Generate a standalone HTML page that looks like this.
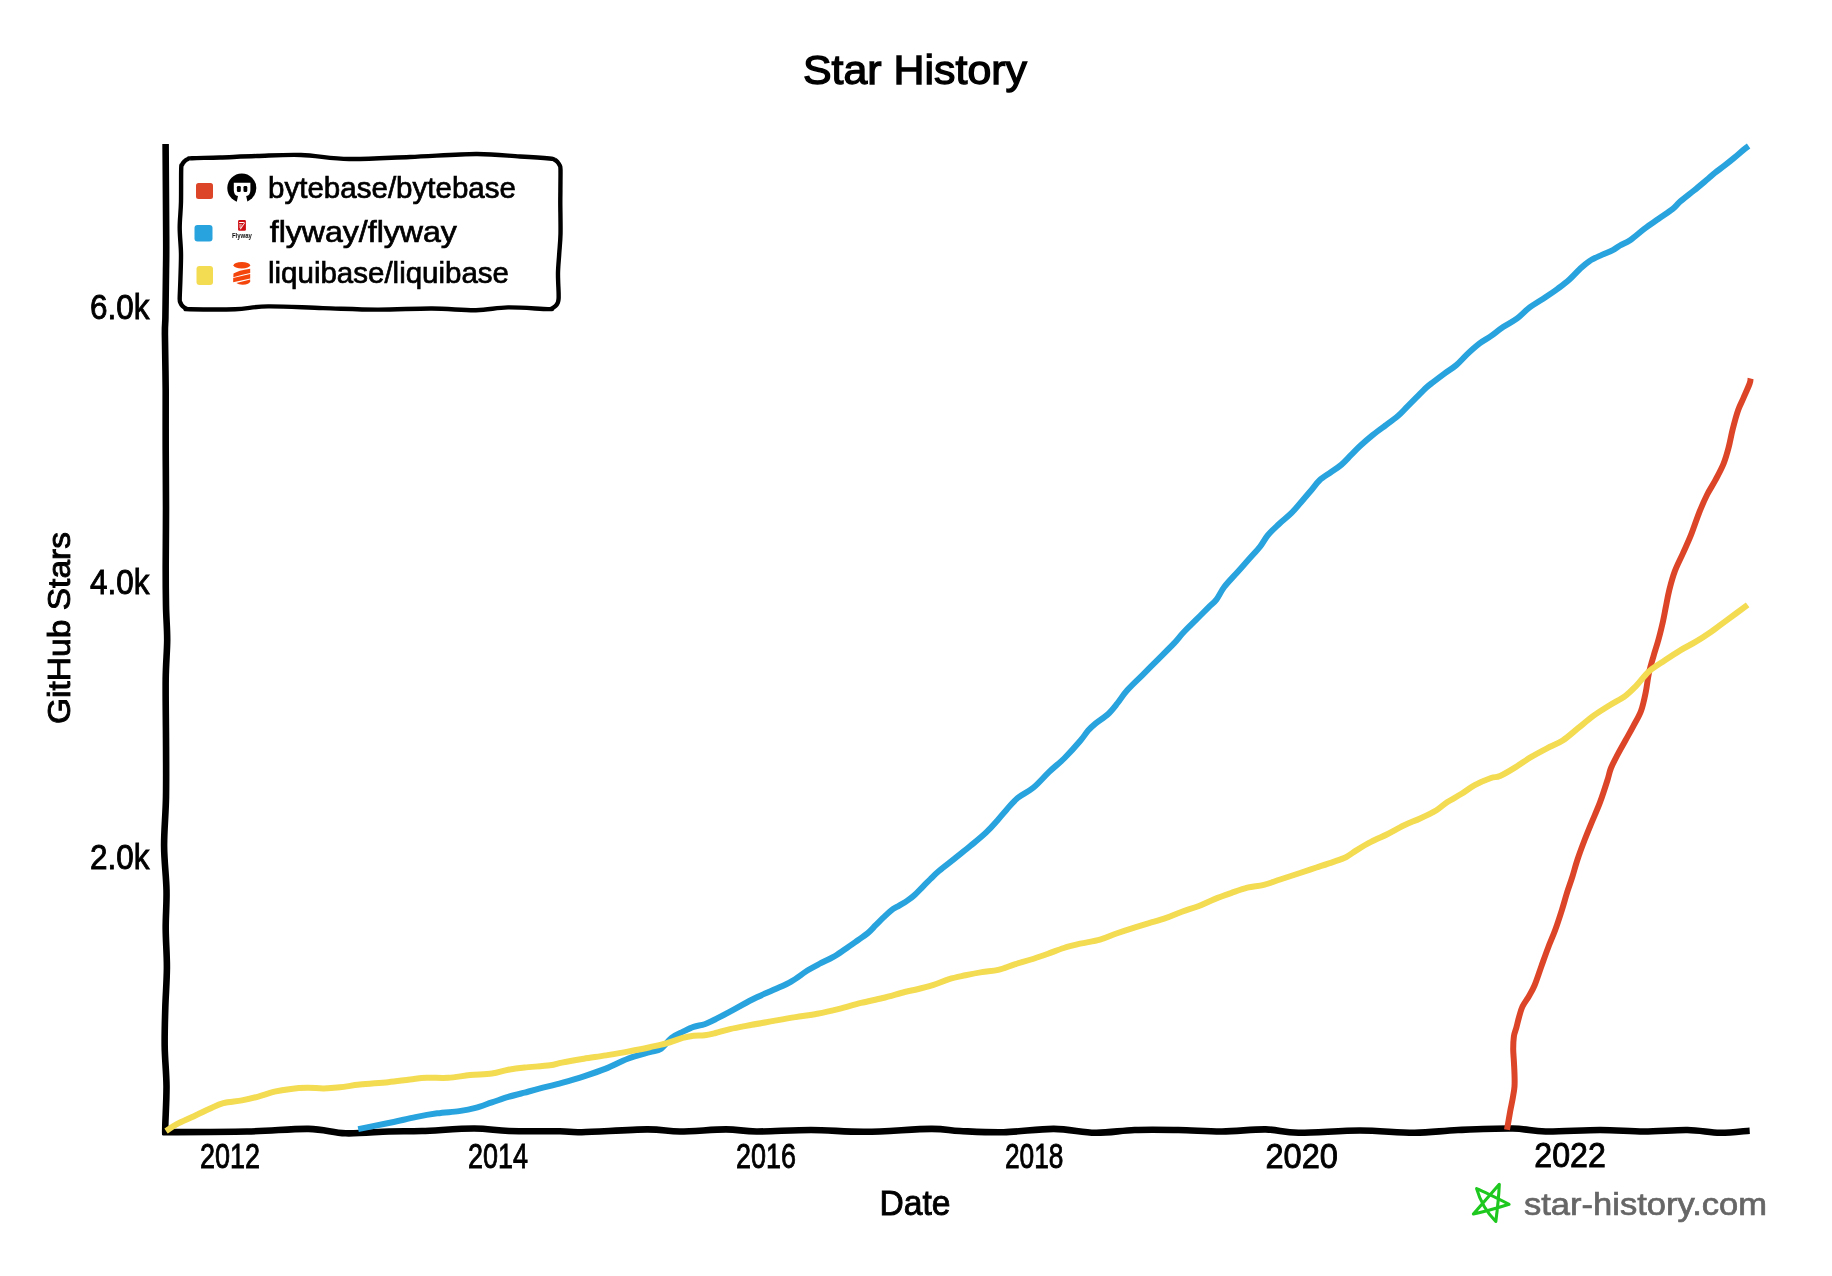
<!DOCTYPE html>
<html><head><meta charset="utf-8"><style>
html,body{margin:0;padding:0;background:#fff;}
body{width:1832px;height:1276px;overflow:hidden;}
svg{display:block;will-change:transform;}
text{font-family:"Liberation Sans",sans-serif;fill:#000;}
.t{stroke:#000;stroke-width:0.9px;}
</style></head><body>
<svg width="1832" height="1276" viewBox="0 0 1832 1276">
<rect width="1832" height="1276" fill="#fff"/>
<!-- title -->
<text class="t" x="803" y="83.5" font-size="41" style="stroke-width:1.3px" textLength="224" lengthAdjust="spacingAndGlyphs">Star History</text>
<!-- y tick labels -->
<text class="t" x="90" y="318.5" font-size="35" textLength="59.5" lengthAdjust="spacingAndGlyphs">6.0k</text>
<text class="t" x="90" y="594" font-size="35" textLength="59.5" lengthAdjust="spacingAndGlyphs">4.0k</text>
<text class="t" x="90" y="869" font-size="35" textLength="59.5" lengthAdjust="spacingAndGlyphs">2.0k</text>
<!-- y label -->
<text class="t" transform="translate(70,724) rotate(-90)" x="0" y="0" font-size="32" textLength="192" lengthAdjust="spacingAndGlyphs">GitHub Stars</text>
<!-- x tick labels -->
<text class="t" x="200" y="1167.5" font-size="35" textLength="60" lengthAdjust="spacingAndGlyphs">2012</text>
<text class="t" x="468" y="1167.5" font-size="35" textLength="60" lengthAdjust="spacingAndGlyphs">2014</text>
<text class="t" x="736" y="1167.5" font-size="35" textLength="60" lengthAdjust="spacingAndGlyphs">2016</text>
<text class="t" x="1005" y="1167.5" font-size="35" textLength="58.5" lengthAdjust="spacingAndGlyphs">2018</text>
<text class="t" x="1265.5" y="1167.5" font-size="35" textLength="72.5" lengthAdjust="spacingAndGlyphs">2020</text>
<text class="t" x="1534.3" y="1167" font-size="35" textLength="71.5" lengthAdjust="spacingAndGlyphs">2022</text>
<!-- x label -->
<text class="t" x="879.5" y="1214.5" font-size="35" textLength="71" lengthAdjust="spacingAndGlyphs">Date</text>

<!-- axes -->
<g fill="none" stroke="#000" stroke-width="6.6" stroke-linecap="butt" stroke-linejoin="round">
<path d="M165.6,144.0 C165.7,159.7 166.1,216.8 166.2,238.0 C166.3,259.2 166.1,261.5 166.0,271.0 C165.9,280.5 165.8,287.2 165.7,295.0 C165.6,302.8 165.5,311.5 165.4,318.0 C165.3,324.5 164.9,322.0 164.9,334.0 C164.9,346.0 165.6,370.9 165.7,390.0 C165.8,409.1 165.6,429.2 165.7,448.8 C165.8,468.4 166.0,488.0 166.0,507.6 C166.0,527.2 165.7,550.1 165.7,566.5 C165.7,582.9 165.8,593.5 166.0,605.7 C166.2,618.0 167.2,627.8 167.2,640.0 C167.1,652.2 165.9,662.7 165.7,679.0 C165.5,695.3 165.9,718.4 166.0,738.0 C166.1,757.6 166.3,778.9 166.0,796.9 C165.7,814.9 164.0,830.4 164.1,845.9 C164.2,861.4 166.2,876.1 166.5,890.0 C166.8,903.9 165.6,916.0 165.7,929.0 C165.8,942.0 167.0,954.9 166.9,968.0 C166.8,981.1 165.7,994.5 165.3,1007.6 C164.9,1020.7 164.5,1033.7 164.7,1046.8 C164.9,1059.9 166.4,1073.0 166.5,1086.0 C166.6,1099.0 165.5,1116.8 165.3,1125.0 C165.1,1133.2 165.3,1133.3 165.3,1135.0"/>
<path d="M162.5,1132.2 C176.6,1132.1 222.7,1132.0 247.0,1131.5 C271.3,1131.0 292.1,1128.6 308.5,1128.9 C324.9,1129.2 332.2,1132.9 345.6,1133.3 C359.0,1133.7 376.3,1131.9 389.0,1131.5 C401.7,1131.1 407.8,1131.5 422.0,1131.0 C436.2,1130.5 459.5,1128.5 474.0,1128.5 C488.5,1128.5 494.7,1130.5 509.0,1131.0 C523.3,1131.5 547.9,1131.1 560.0,1131.3 C572.1,1131.5 567.3,1132.5 581.8,1132.2 C596.3,1131.9 630.6,1129.5 647.0,1129.4 C663.4,1129.3 666.8,1131.5 680.0,1131.5 C693.2,1131.5 713.2,1129.4 726.0,1129.4 C738.8,1129.4 742.3,1131.4 756.5,1131.5 C770.7,1131.6 792.8,1130.0 811.0,1130.0 C829.2,1130.0 845.7,1132.0 865.7,1131.8 C885.7,1131.6 915.3,1129.0 931.0,1128.9 C946.7,1128.8 947.9,1130.5 960.0,1131.0 C972.1,1131.5 988.1,1132.5 1003.7,1132.2 C1019.4,1131.9 1038.6,1128.8 1053.9,1128.9 C1069.2,1129.0 1081.9,1132.6 1095.4,1132.8 C1108.9,1133.0 1120.9,1130.5 1134.7,1130.0 C1148.5,1129.5 1163.8,1129.8 1178.3,1130.0 C1192.8,1130.2 1207.4,1131.6 1222.0,1131.5 C1236.6,1131.4 1253.0,1129.2 1265.7,1129.4 C1278.4,1129.6 1282.7,1132.6 1298.4,1132.8 C1314.1,1133.0 1340.6,1130.5 1360.0,1130.5 C1379.4,1130.5 1398.3,1132.9 1414.6,1132.8 C1430.9,1132.7 1441.6,1130.7 1458.0,1130.0 C1474.4,1129.3 1498.2,1128.2 1512.8,1128.5 C1527.4,1128.8 1531.1,1131.2 1545.6,1131.5 C1560.1,1131.8 1583.6,1130.0 1600.0,1130.0 C1616.4,1130.0 1629.4,1131.5 1644.0,1131.5 C1658.6,1131.5 1674.8,1129.8 1687.5,1130.0 C1700.2,1130.2 1709.6,1132.7 1720.0,1132.8 C1730.4,1132.9 1744.8,1131.0 1749.7,1130.7"/>
</g>

<!-- data lines -->
<g fill="none" stroke-width="6" stroke-linejoin="round" stroke-linecap="butt">
<path stroke="#dd4528" d="M1507.0,1129.8 C1507.5,1126.8 1509.2,1116.8 1510.1,1111.7 C1511.0,1106.6 1511.9,1103.3 1512.6,1099.1 C1513.3,1094.9 1514.2,1090.8 1514.5,1086.6 C1514.8,1082.4 1514.6,1078.2 1514.5,1074.0 C1514.4,1069.8 1514.1,1065.7 1513.9,1061.5 C1513.7,1057.3 1513.2,1053.2 1513.2,1049.0 C1513.2,1044.8 1513.4,1040.0 1513.9,1036.4 C1514.4,1032.8 1515.6,1030.7 1516.4,1027.6 C1517.2,1024.5 1517.9,1021.1 1518.9,1017.6 C1519.9,1014.1 1520.9,1009.8 1522.6,1006.3 C1524.3,1002.8 1526.9,999.8 1528.9,996.3 C1530.9,992.8 1532.4,990.5 1534.5,985.5 C1536.6,980.5 1539.1,972.6 1541.4,966.2 C1543.7,959.8 1546.0,953.2 1548.3,947.2 C1550.6,941.2 1552.9,936.3 1555.2,930.0 C1557.5,923.7 1560.1,915.6 1562.1,909.3 C1564.1,903.0 1565.5,897.5 1567.2,892.1 C1568.9,886.7 1570.7,882.1 1572.4,876.6 C1574.1,871.1 1575.6,865.3 1577.6,859.3 C1579.6,853.2 1582.2,846.3 1584.5,840.3 C1586.8,834.3 1588.8,829.4 1591.4,823.1 C1594.0,816.8 1597.3,809.6 1600.0,802.4 C1602.7,795.2 1605.7,785.7 1607.5,780.0 C1609.3,774.3 1609.3,772.2 1611.0,768.0 C1612.7,763.8 1615.2,759.2 1617.6,754.6 C1620.0,750.0 1622.8,745.2 1625.4,740.5 C1628.0,735.8 1630.6,731.4 1633.2,726.4 C1635.8,721.4 1639.0,716.5 1641.1,710.7 C1643.2,705.0 1644.5,698.2 1645.8,691.9 C1647.1,685.6 1647.6,679.1 1648.9,673.1 C1650.2,667.1 1652.0,661.3 1653.6,655.8 C1655.2,650.3 1656.7,646.0 1658.3,640.2 C1659.9,634.5 1661.7,627.0 1663.0,621.3 C1664.3,615.5 1665.0,610.9 1666.1,605.7 C1667.1,600.5 1667.9,595.6 1669.3,590.0 C1670.7,584.4 1672.3,578.0 1674.6,571.9 C1676.8,565.8 1680.1,559.7 1682.8,553.6 C1685.5,547.5 1688.2,542.0 1690.9,535.2 C1693.6,528.4 1696.4,519.6 1699.1,512.8 C1701.8,506.0 1704.5,499.9 1707.2,494.5 C1709.9,489.1 1712.7,485.3 1715.4,480.2 C1718.1,475.1 1721.3,469.3 1723.5,463.9 C1725.7,458.5 1727.1,453.4 1728.6,447.6 C1730.1,441.8 1731.1,435.6 1732.7,429.3 C1734.3,423.0 1736.4,415.1 1738.2,410.0 C1740.0,404.9 1741.4,402.8 1743.3,398.4 C1745.2,394.0 1748.4,386.9 1749.6,383.6 C1750.8,380.3 1750.4,379.4 1750.6,378.5"/>
<path stroke="#28a3dd" d="M358.2,1129.1 C360.5,1128.6 365.9,1127.6 371.8,1126.4 C377.7,1125.2 386.4,1123.5 393.7,1122.0 C401.0,1120.5 408.2,1118.5 415.5,1117.1 C422.8,1115.6 430.0,1114.3 437.3,1113.3 C444.6,1112.3 452.8,1112.0 459.2,1111.1 C465.6,1110.2 470.1,1109.4 475.5,1107.9 C480.9,1106.5 486.4,1104.2 491.9,1102.4 C497.4,1100.6 502.8,1098.5 508.3,1096.9 C513.8,1095.3 519.2,1094.0 524.7,1092.6 C530.2,1091.1 534.8,1089.8 541.0,1088.2 C547.2,1086.6 554.8,1084.9 561.9,1082.9 C569.0,1080.9 576.6,1078.7 583.9,1076.3 C591.2,1073.9 598.5,1071.5 605.8,1068.6 C613.1,1065.7 620.5,1061.4 627.8,1058.7 C635.1,1056.0 644.2,1053.8 649.7,1052.2 C655.2,1050.6 657.1,1051.3 660.7,1048.9 C664.4,1046.5 668.0,1040.7 671.6,1037.9 C675.2,1035.1 678.9,1033.7 682.6,1031.9 C686.3,1030.1 689.9,1028.2 693.6,1026.9 C697.3,1025.6 701.0,1025.5 704.6,1024.2 C708.2,1022.9 711.3,1021.3 715.5,1019.2 C719.7,1017.1 724.0,1015.0 730.0,1011.7 C736.0,1008.5 744.5,1003.4 751.8,999.7 C759.1,996.1 767.2,992.8 773.7,989.8 C780.2,986.8 785.4,984.9 791.1,981.6 C796.8,978.4 802.9,973.3 807.8,970.3 C812.7,967.3 816.1,965.6 820.3,963.4 C824.5,961.2 828.7,959.6 832.9,957.2 C837.1,954.8 841.2,951.8 845.4,949.0 C849.6,946.2 854.2,942.9 857.9,940.3 C861.6,937.6 864.8,935.6 867.8,933.1 C870.8,930.6 873.1,927.8 875.7,925.2 C878.3,922.6 880.9,919.9 883.5,917.4 C886.1,914.9 888.7,912.3 891.3,910.3 C893.9,908.3 896.6,907.2 899.2,905.6 C901.8,904.0 904.4,902.7 907.0,900.9 C909.6,899.1 912.3,897.1 914.9,894.7 C917.5,892.4 920.1,889.4 922.7,886.8 C925.3,884.2 927.8,881.7 930.5,879.0 C933.2,876.3 935.1,874.2 939.2,870.8 C943.3,867.3 949.7,862.5 954.9,858.3 C960.1,854.1 965.3,850.1 970.5,845.8 C975.7,841.5 981.8,836.6 986.2,832.4 C990.7,828.2 993.8,824.5 997.2,820.7 C1000.6,816.9 1003.2,813.5 1006.6,809.7 C1010.0,805.9 1013.2,801.6 1017.6,798.0 C1022.0,794.4 1028.0,792.1 1033.2,787.8 C1038.4,783.5 1043.7,777.1 1048.9,772.1 C1054.1,767.1 1059.4,763.2 1064.6,758.0 C1069.8,752.8 1076.4,745.4 1080.3,740.8 C1084.2,736.2 1085.5,733.5 1088.1,730.6 C1090.7,727.7 1092.3,726.2 1095.7,723.4 C1099.1,720.6 1104.6,717.4 1108.2,714.0 C1111.8,710.6 1114.5,706.9 1117.6,703.0 C1120.7,699.1 1122.8,695.2 1127.0,690.5 C1131.2,685.8 1137.5,680.0 1142.7,674.8 C1147.9,669.6 1153.2,664.3 1158.4,659.1 C1163.6,653.9 1169.8,647.8 1174.0,643.4 C1178.2,639.0 1179.7,636.4 1183.4,632.5 C1187.1,628.6 1191.8,624.1 1196.0,619.9 C1200.2,615.7 1205.1,610.8 1208.5,607.4 C1211.9,604.0 1213.8,603.0 1216.4,599.6 C1219.0,596.2 1220.8,591.5 1224.2,587.0 C1227.6,582.5 1232.5,577.6 1236.7,572.9 C1240.9,568.2 1245.4,563.2 1249.3,558.8 C1253.2,554.4 1257.2,550.2 1260.3,546.3 C1263.4,542.4 1264.7,538.9 1267.8,535.2 C1270.9,531.5 1274.9,527.9 1278.8,524.2 C1282.7,520.5 1287.4,517.1 1291.3,513.2 C1295.2,509.3 1298.9,504.6 1302.3,500.7 C1305.7,496.8 1308.8,493.1 1311.7,489.7 C1314.6,486.3 1316.5,483.2 1319.6,480.3 C1322.7,477.4 1326.8,475.1 1330.5,472.5 C1334.2,469.9 1338.1,467.5 1341.5,464.6 C1344.9,461.7 1347.8,458.3 1350.9,455.2 C1354.0,452.1 1356.6,449.2 1360.3,445.8 C1364.0,442.4 1368.7,438.3 1372.9,434.9 C1377.1,431.5 1381.2,428.6 1385.4,425.5 C1389.6,422.4 1394.2,419.1 1397.9,416.0 C1401.6,412.9 1404.2,409.7 1407.3,406.6 C1410.4,403.5 1413.6,400.3 1416.7,397.2 C1419.8,394.1 1423.5,390.2 1426.1,387.8 C1428.7,385.4 1429.3,385.0 1432.5,382.6 C1435.7,380.2 1441.2,376.1 1445.1,373.2 C1449.0,370.3 1452.3,368.5 1456.0,365.4 C1459.7,362.3 1463.1,358.1 1467.0,354.4 C1470.9,350.7 1475.7,346.4 1479.6,343.4 C1483.5,340.4 1486.6,339.1 1490.5,336.4 C1494.4,333.7 1498.6,330.0 1503.1,327.0 C1507.5,324.0 1512.8,321.7 1517.2,318.4 C1521.6,315.1 1525.0,310.9 1529.7,307.4 C1534.4,303.9 1540.7,300.3 1545.4,297.2 C1550.1,294.1 1554.0,291.5 1557.9,288.6 C1561.8,285.7 1565.2,283.3 1568.9,280.0 C1572.6,276.7 1576.5,272.1 1579.9,269.0 C1583.3,265.9 1585.7,263.6 1589.3,261.2 C1592.9,258.8 1597.9,256.7 1601.8,254.9 C1605.7,253.1 1609.8,251.8 1612.8,250.2 C1615.8,248.6 1617.0,247.2 1620.0,245.5 C1623.0,243.8 1626.4,242.7 1630.5,239.9 C1634.6,237.1 1639.9,232.1 1644.6,228.6 C1649.3,225.1 1654.0,222.0 1658.7,218.7 C1663.4,215.4 1669.3,211.7 1672.8,208.9 C1676.3,206.1 1676.4,204.9 1679.9,201.8 C1683.4,198.7 1689.3,194.3 1694.0,190.5 C1698.7,186.7 1704.6,181.7 1708.1,178.8 C1711.5,175.9 1712.0,175.2 1714.7,173.0 C1717.4,170.8 1721.0,168.3 1724.1,165.9 C1727.2,163.5 1730.4,161.0 1733.5,158.4 C1736.6,155.8 1740.4,152.5 1742.9,150.4 C1745.4,148.3 1747.6,146.7 1748.6,146.0"/>
<path stroke="#f3db52" d="M166.0,1131.0 C167.7,1129.9 171.9,1126.8 176.4,1124.4 C180.9,1122.0 187.4,1119.3 192.8,1116.8 C198.2,1114.2 204.0,1111.4 209.1,1109.1 C214.2,1106.8 217.8,1104.5 223.3,1103.1 C228.8,1101.6 236.1,1101.5 241.9,1100.4 C247.7,1099.3 252.9,1098.0 258.3,1096.6 C263.8,1095.1 269.2,1093.0 274.6,1091.7 C280.1,1090.4 285.5,1089.6 291.0,1088.9 C296.5,1088.2 301.9,1087.9 307.4,1087.8 C312.9,1087.7 318.4,1088.5 323.8,1088.4 C329.2,1088.3 334.1,1087.9 340.1,1087.3 C346.1,1086.7 352.0,1085.4 360.0,1084.6 C368.0,1083.8 379.9,1083.0 388.2,1082.2 C396.5,1081.4 403.6,1080.2 410.0,1079.5 C416.4,1078.8 420.0,1078.1 426.4,1077.8 C432.8,1077.5 441.0,1078.2 448.3,1077.8 C455.6,1077.3 462.8,1075.8 470.1,1075.1 C477.4,1074.4 485.5,1074.4 491.9,1073.5 C498.3,1072.6 502.8,1070.7 508.3,1069.7 C513.8,1068.7 517.8,1068.2 524.7,1067.5 C531.7,1066.8 543.8,1066.1 550.0,1065.3 C556.2,1064.5 556.2,1063.7 561.9,1062.6 C567.5,1061.5 576.6,1059.9 583.9,1058.7 C591.2,1057.5 598.5,1056.6 605.8,1055.4 C613.1,1054.2 620.5,1053.0 627.8,1051.6 C635.1,1050.2 643.3,1048.6 649.7,1047.2 C656.1,1045.8 660.7,1045.0 666.2,1043.4 C671.7,1041.9 678.0,1039.2 682.6,1037.9 C687.2,1036.6 689.9,1036.2 693.6,1035.7 C697.3,1035.2 701.0,1035.7 704.6,1035.2 C708.2,1034.8 711.3,1034.0 715.5,1033.0 C719.7,1032.0 724.0,1030.5 730.0,1029.1 C736.0,1027.7 744.5,1026.2 751.8,1024.8 C759.1,1023.4 766.4,1022.2 773.7,1020.9 C781.0,1019.6 788.2,1018.3 795.5,1017.1 C802.8,1015.9 810.0,1015.2 817.3,1013.8 C824.6,1012.4 831.9,1010.7 839.2,1008.9 C846.5,1007.1 853.7,1004.7 861.0,1002.9 C868.3,1001.1 875.5,999.8 882.8,998.0 C890.1,996.2 899.1,993.4 904.7,992.0 C910.3,990.6 911.7,990.6 916.4,989.5 C921.1,988.4 927.3,986.9 932.8,985.2 C938.2,983.5 943.6,980.8 949.1,979.1 C954.6,977.5 960.0,976.5 965.5,975.3 C971.0,974.1 976.4,973.0 981.9,972.1 C987.4,971.2 992.8,971.2 998.3,969.9 C1003.8,968.6 1009.1,966.1 1014.6,964.4 C1020.1,962.7 1025.5,961.2 1031.0,959.5 C1036.5,957.8 1041.9,955.9 1047.4,954.0 C1052.9,952.1 1058.3,949.7 1063.8,948.0 C1069.2,946.3 1074.1,945.1 1080.1,943.7 C1086.1,942.3 1094.0,941.3 1100.0,939.6 C1106.0,937.9 1110.9,935.4 1116.4,933.5 C1121.9,931.6 1127.3,929.8 1132.8,928.1 C1138.2,926.4 1143.6,924.8 1149.1,923.1 C1154.5,921.5 1160.0,920.1 1165.5,918.2 C1171.0,916.3 1176.4,913.7 1181.9,911.7 C1187.4,909.7 1192.8,908.3 1198.3,906.2 C1203.8,904.1 1209.1,901.3 1214.6,899.1 C1220.0,896.9 1225.5,895.0 1231.0,893.1 C1236.5,891.2 1241.9,889.1 1247.4,887.7 C1252.9,886.3 1258.3,886.3 1263.8,884.9 C1269.2,883.5 1274.1,881.5 1280.1,879.5 C1286.1,877.5 1294.0,875.0 1300.0,873.0 C1306.0,871.0 1310.9,869.3 1316.4,867.5 C1321.9,865.7 1327.9,863.8 1332.8,862.1 C1337.7,860.4 1341.9,859.2 1345.9,857.2 C1349.9,855.2 1352.6,852.7 1356.8,850.1 C1361.0,847.5 1365.9,844.5 1371.0,841.9 C1376.1,839.2 1381.8,836.9 1387.3,834.2 C1392.8,831.5 1398.2,828.1 1403.7,825.5 C1409.2,822.9 1414.6,820.9 1420.1,818.4 C1425.6,815.9 1432.0,812.9 1436.5,810.2 C1441.0,807.5 1443.2,804.7 1447.4,802.0 C1451.6,799.3 1457.0,796.6 1461.6,793.8 C1466.1,791.0 1469.8,787.7 1474.7,785.1 C1479.6,782.5 1486.8,779.5 1491.0,778.0 C1495.2,776.5 1495.9,777.8 1500.0,776.0 C1504.1,774.2 1510.5,770.3 1515.7,767.1 C1520.9,763.9 1526.1,760.0 1531.3,756.9 C1536.5,753.8 1541.8,751.0 1547.0,748.3 C1552.2,745.6 1557.5,743.9 1562.7,740.5 C1567.9,737.1 1573.2,732.1 1578.4,727.9 C1583.6,723.7 1588.8,719.2 1594.0,715.4 C1599.2,711.6 1604.5,708.5 1609.7,705.2 C1614.9,701.9 1621.0,699.1 1625.4,695.8 C1629.9,692.5 1632.5,689.6 1636.4,685.6 C1640.3,681.6 1644.2,675.7 1648.9,671.5 C1653.6,667.3 1659.4,664.0 1664.6,660.5 C1669.8,657.0 1675.1,653.4 1680.3,650.3 C1685.5,647.2 1690.7,644.8 1695.9,641.7 C1701.1,638.6 1706.4,635.1 1711.6,631.5 C1716.8,627.9 1721.3,624.2 1727.3,619.8 C1733.3,615.4 1744.2,607.4 1747.6,604.9"/>
</g>

<!-- legend -->
<path fill="#fff" stroke="#000" stroke-width="4.4" stroke-linejoin="round" d="M181.2,169.0 C181.4,162.8 181.5,166.1 182.0,164.9 C182.5,163.6 183.4,162.3 184.4,161.4 C185.3,160.4 186.6,159.5 187.9,159.0 C189.1,158.5 186.6,158.5 192.0,158.2 C197.4,157.9 209.2,157.9 220.0,157.5 C230.8,157.1 243.5,156.4 257.0,156.0 C270.5,155.6 285.7,154.5 301.0,155.0 C316.3,155.5 330.8,158.7 349.0,159.0 C367.2,159.3 388.8,157.8 410.0,157.0 C431.2,156.2 457.7,154.1 476.0,154.0 C494.3,153.9 507.8,155.8 520.0,156.5 C532.2,157.2 543.9,158.0 549.5,158.5 C555.1,159.0 552.4,158.8 553.7,159.3 C555.0,159.9 556.3,160.7 557.3,161.7 C558.3,162.7 559.1,164.0 559.7,165.3 C560.2,166.6 560.4,165.4 560.5,169.5 C560.6,173.6 560.4,184.6 560.4,190.0 C560.4,195.4 560.3,194.7 560.3,202.0 C560.3,209.3 560.7,225.3 560.5,234.0 C560.3,242.7 559.6,247.5 559.2,254.0 C558.8,260.5 558.1,266.6 558.0,273.0 C557.9,279.4 558.5,288.2 558.6,292.5 C558.7,296.8 558.7,296.8 558.6,298.5 C558.5,300.2 558.3,301.3 557.8,302.6 C557.3,303.8 556.5,305.0 555.5,306.0 C554.5,307.0 553.3,307.8 552.1,308.3 C550.8,308.8 555.3,309.2 548.0,309.1 C540.7,309.0 520.0,307.2 508.0,307.4 C496.0,307.6 488.7,310.0 476.0,310.2 C463.3,310.4 448.5,308.6 432.0,308.5 C415.5,308.4 395.2,309.7 377.0,309.6 C358.8,309.5 341.2,308.6 323.0,308.1 C304.8,307.6 282.7,306.2 268.0,306.4 C253.3,306.6 248.0,308.7 235.0,309.2 C222.0,309.7 198.2,309.4 190.0,309.3 C181.8,309.2 187.3,309.0 186.1,308.5 C184.8,308.0 183.6,307.2 182.7,306.3 C181.8,305.4 181.0,304.2 180.5,302.9 C180.0,301.7 179.7,302.9 179.7,299.0 C179.7,295.1 180.2,287.1 180.4,279.5 C180.6,271.9 181.1,262.2 181.0,253.6 C180.9,245.0 179.7,236.3 179.7,227.7 C179.7,219.1 180.8,211.6 181.0,201.8 C181.2,192.0 181.0,175.2 181.2,169.0Z"/>
<rect x="196" y="183" width="17" height="16" rx="2.5" fill="#dd4528"/>
<rect x="194.5" y="225" width="18" height="16.5" rx="3" fill="#28a3dd"/>
<rect x="196.5" y="266" width="16.5" height="19" rx="3" fill="#f3db52"/>
<!-- bytebase icon -->
<g>
<circle cx="241.8" cy="188" r="14.5" fill="#000"/>
<path fill="#fff" d="M233.8,182.7 H250.4 V190 Q250.4,195.4 246.2,196 L247.8,203.5 H236.4 L238,196 Q233.8,195.4 233.8,190 Z"/>
<rect x="236.9" y="186" width="3.9" height="6.1" rx="1.3" fill="#000"/>
<rect x="243.5" y="186" width="3.8" height="6.1" rx="1.3" fill="#000"/>
</g>
<!-- flyway icon -->
<g>
<rect x="238.1" y="220.1" width="7.8" height="10.6" rx="1.2" fill="#cc0d12"/>
<path d="M239.2,222 L244.2,222 L243.6,223 L239.2,223 Z" fill="#fff"/>
<path d="M244.6,222.3 L245.2,222.8 L240.9,229.3 L239.6,229.3 L240.8,227.6 L239.2,227.6 L239.2,226.6 L241.5,226.6 Z" fill="#fff" opacity="0.9"/>
<path d="M239.2,224.6 L242,224.6 L241.5,225.4 L239.2,225.4 Z" fill="#fff"/>
<text x="231.9" y="238.2" font-size="7" font-weight="bold" style="fill:#111" textLength="20" lengthAdjust="spacingAndGlyphs">Flyway</text>
</g>
<!-- liquibase icon -->
<g fill="#f4450c">
<ellipse cx="241.8" cy="265.3" rx="8.3" ry="3.2"/>
<path d="M233.5,273.6 Q238,270.6 250.2,268.8 L250.2,272.9 Q243,274.4 233.3,277.3 Z"/>
<path d="M233.2,278.1 L250.2,273.9 L250.2,278.6 L233.2,282.2 Z"/>
<path d="M236.4,283.1 L250.2,279.5 L250.2,281.6 Q249.5,284.7 242.5,284.7 Q238.5,284.6 236.4,283.1 Z"/>
</g>
<text class="t" x="268" y="198.2" font-size="30" textLength="248" lengthAdjust="spacingAndGlyphs" style="stroke-width:0.7px">bytebase/bytebase</text>
<text class="t" x="269.8" y="241.6" font-size="30" textLength="187" lengthAdjust="spacingAndGlyphs" style="stroke-width:0.7px">flyway/flyway</text>
<text class="t" x="268" y="282.9" font-size="30" textLength="241" lengthAdjust="spacingAndGlyphs" style="stroke-width:0.7px">liquibase/liquibase</text>

<!-- watermark -->
<path fill="none" stroke="#1ec81e" stroke-width="3.1" stroke-linejoin="round" stroke-linecap="round" d="M1476.6,1188.6 Q1486.15,1192.55 1509.1,1204.3 Q1487.75,1211.05 1473.4,1214 L1499.3,1184.3 Q1498.65,1200.1 1495.8,1221.5 Q1482,1207.5 1476.6,1188.6 Z"/>
<text x="1524" y="1214.6" font-size="32" textLength="243" lengthAdjust="spacingAndGlyphs" style="fill:#666;stroke:#666;stroke-width:0.7px">star-history.com</text>
</svg>
</body></html>
